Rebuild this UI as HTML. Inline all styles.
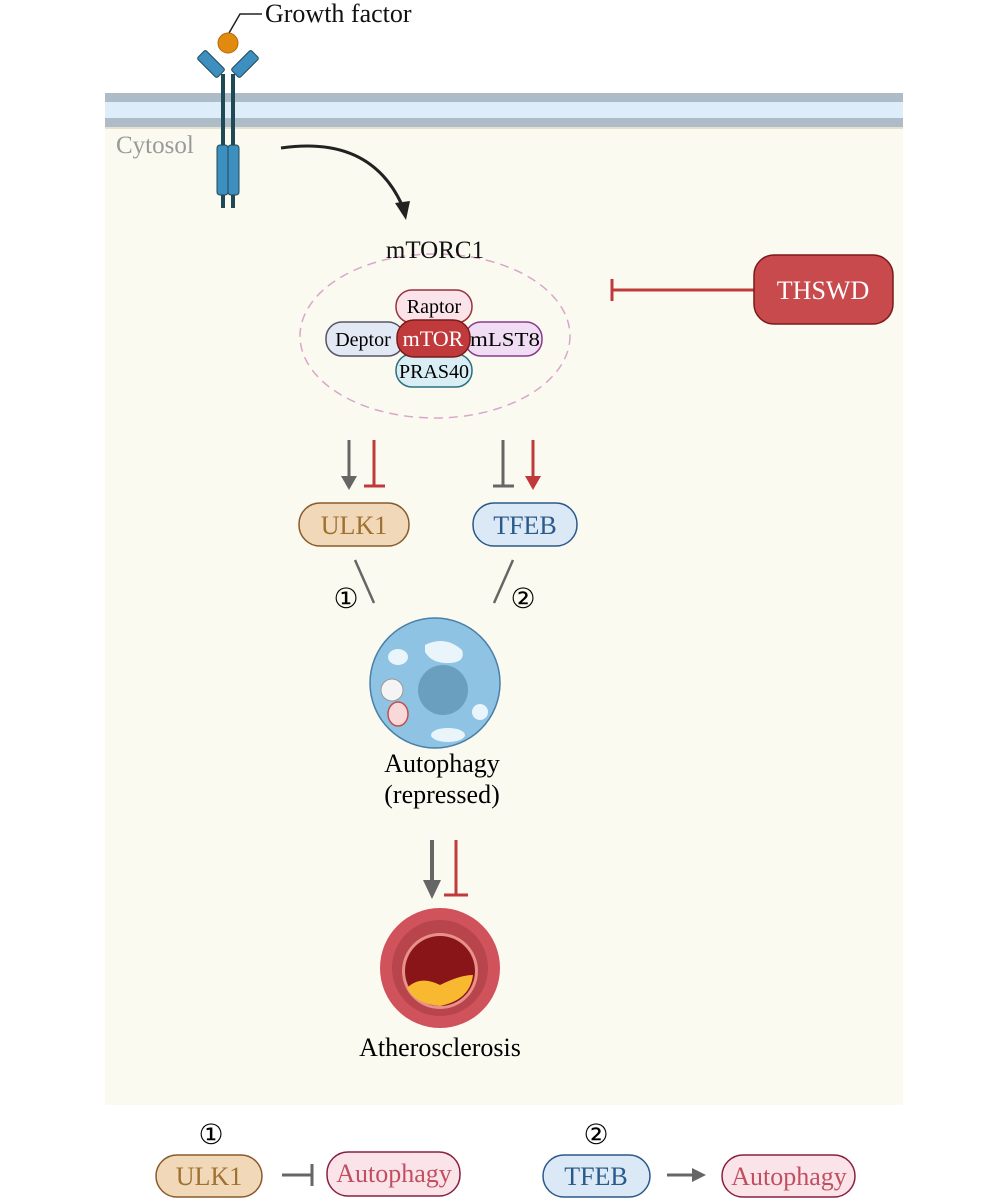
<!DOCTYPE html>
<html><head><meta charset="utf-8"><style>
html,body{margin:0;padding:0;background:#fff;}
svg{display:block;font-family:"Liberation Serif",serif;}
</style></head><body>
<svg width="1008" height="1200" viewBox="0 0 1008 1200" xmlns="http://www.w3.org/2000/svg">
<rect x="105" y="128" width="798" height="977" fill="#fbfaf0"/>
<rect x="105" y="93" width="798" height="9" fill="#aebcc8"/>
<rect x="105" y="102" width="798" height="16" fill="#ddeefa"/>
<rect x="105" y="118" width="798" height="9" fill="#aebcc8"/>
<rect x="105" y="127" width="798" height="2" fill="#e6e0cc"/>
<text x="116" y="153" font-size="25" fill="#999">Cytosol</text>
<polyline points="229,33 240,14 262,14" fill="none" stroke="#222" stroke-width="1.5"/>
<text x="265" y="22" font-size="26" fill="#111">Growth factor</text>
<rect x="221" y="74" width="4" height="134" fill="#1f4a55"/>
<rect x="231" y="74" width="4" height="134" fill="#1f4a55"/>
<rect x="205" y="50" width="12" height="28" rx="2" fill="#3d8fc0" stroke="#1f4a55" transform="rotate(-45 211 64)"/>
<rect x="239" y="50" width="12" height="28" rx="2" fill="#3d8fc0" stroke="#1f4a55" transform="rotate(45 245 64)"/>
<circle cx="228" cy="43" r="10" fill="#e08a10" stroke="#b86a00"/>
<rect x="217" y="145" width="11" height="50" rx="3" fill="#3d8fc0" stroke="#1f4a55"/>
<rect x="228" y="145" width="11" height="50" rx="3" fill="#3d8fc0" stroke="#1f4a55"/>
<path d="M281,148 Q370,135 402,205" fill="none" stroke="#222" stroke-width="3"/>
<path d="M395,203 L410,201 L406,220 z" fill="#222"/>
<ellipse cx="435" cy="336" rx="135" ry="82" fill="none" stroke="#d9a6cc" stroke-width="1.5" stroke-dasharray="9,6"/>
<text x="435" y="258" font-size="25" text-anchor="middle" fill="#111">mTORC1</text>
<rect x="396" y="290" width="76" height="33" rx="16" fill="#fbe3ea" stroke="#9a3040" stroke-width="1.5"/>
<text x="434" y="313" font-size="20" text-anchor="middle">Raptor</text>
<rect x="396" y="354" width="76" height="33" rx="16" fill="#d8eef4" stroke="#2a7080" stroke-width="1.5"/>
<text x="434" y="378" font-size="20" text-anchor="middle" textLength="70" lengthAdjust="spacingAndGlyphs">PRAS40</text>
<rect x="326" y="322" width="78" height="34" rx="16" fill="#e2e9f4" stroke="#556" stroke-width="1.5"/>
<text x="363" y="346" font-size="20" text-anchor="middle">Deptor</text>
<rect x="465" y="322" width="77" height="34" rx="16" fill="#f0ddf4" stroke="#8a3a90" stroke-width="1.5"/>
<text x="505" y="346" font-size="20" text-anchor="middle" textLength="70" lengthAdjust="spacingAndGlyphs">mLST8</text>
<rect x="397" y="320" width="73" height="37" rx="17" fill="#c0393b" stroke="#7a1a1a" stroke-width="1.5"/>
<text x="433" y="346" font-size="22" text-anchor="middle" fill="#fff">mTOR</text>
<line x1="612" y1="290" x2="754" y2="290" stroke="#c0393b" stroke-width="3"/>
<line x1="612" y1="279" x2="612" y2="301" stroke="#c0393b" stroke-width="3"/>
<rect x="754" y="255" width="139" height="69" rx="20" fill="#c84a4c" stroke="#7a1a1a" stroke-width="1.5"/>
<text x="823" y="299" font-size="26" text-anchor="middle" fill="#fff">THSWD</text>
<line x1="349" y1="440" x2="349" y2="478" stroke="#666" stroke-width="3"/>
<path d="M341,476 L357,476 L349,490 z" fill="#666"/>
<line x1="374" y1="440" x2="374" y2="486" stroke="#c0393b" stroke-width="3"/>
<line x1="364" y1="486" x2="385" y2="486" stroke="#c0393b" stroke-width="3"/>
<line x1="503" y1="440" x2="503" y2="486" stroke="#666" stroke-width="3"/>
<line x1="493" y1="486" x2="514" y2="486" stroke="#666" stroke-width="3"/>
<line x1="533" y1="440" x2="533" y2="478" stroke="#c0393b" stroke-width="3"/>
<path d="M525,476 L541,476 L533,490 z" fill="#c0393b"/>
<rect x="299" y="503" width="110" height="43" rx="21" fill="#f0d8b8" stroke="#8a5a2a" stroke-width="1.5"/>
<text x="354" y="534" font-size="26" text-anchor="middle" fill="#a07030">ULK1</text>
<rect x="473" y="503" width="104" height="43" rx="21" fill="#dbe9f7" stroke="#2a5a8a" stroke-width="1.5"/>
<text x="525" y="534" font-size="26" text-anchor="middle" fill="#2a5a8a">TFEB</text>
<line x1="355" y1="560" x2="374" y2="603" stroke="#666" stroke-width="2.5"/>
<line x1="513" y1="560" x2="494" y2="603" stroke="#666" stroke-width="2.5"/>
<text x="346" y="608" font-size="28" text-anchor="middle">①</text>
<text x="523" y="608" font-size="28" text-anchor="middle">②</text>
<circle cx="435" cy="683" r="65" fill="#8fc3e3" stroke="#4a80a8" stroke-width="1.5"/>
<circle cx="443" cy="690" r="25" fill="#6a9fc0"/>
<path d="M425,645 Q445,635 462,650 Q466,662 450,663 Q432,664 425,652 z" fill="#eaf4fb"/>
<ellipse cx="398" cy="657" rx="10" ry="8" fill="#eaf4fb"/>
<ellipse cx="480" cy="712" rx="8" ry="8" fill="#eaf4fb"/>
<ellipse cx="448" cy="735" rx="17" ry="7" fill="#eaf4fb"/>
<circle cx="392" cy="690" r="11" fill="#f4f4f4" stroke="#999"/>
<ellipse cx="398" cy="714" rx="10" ry="12" fill="#f8d8d8" stroke="#c05050" stroke-width="1.5"/>
<text x="442" y="772" font-size="26" text-anchor="middle">Autophagy</text>
<text x="442" y="803" font-size="26" text-anchor="middle">(repressed)</text>
<line x1="432" y1="840" x2="432" y2="882" stroke="#666" stroke-width="4"/>
<path d="M423,880 L441,880 L432,899 z" fill="#666"/>
<line x1="456" y1="840" x2="456" y2="895" stroke="#c0393b" stroke-width="3"/>
<line x1="444" y1="895" x2="468" y2="895" stroke="#c0393b" stroke-width="3"/>
<circle cx="440" cy="968" r="60" fill="#d0525a"/>
<circle cx="440" cy="968" r="48" fill="#b8454c"/>
<circle cx="440" cy="971" r="38" fill="#e8908a"/>
<circle cx="440" cy="971" r="35" fill="#8a1518"/>
<path d="M407,988 Q420,975 440,985 Q460,975 473,975 Q470,1000 440,1006 Q415,1004 407,988 z" fill="#f8b830"/>
<text x="440" y="1056" font-size="26" text-anchor="middle">Atherosclerosis</text>
<text x="211" y="1144" font-size="28" text-anchor="middle">①</text>
<rect x="156" y="1155" width="106" height="42" rx="21" fill="#f0d8b8" stroke="#8a5a2a" stroke-width="1.5"/>
<text x="209" y="1185" font-size="26" text-anchor="middle" fill="#a07030">ULK1</text>
<line x1="282" y1="1175" x2="311" y2="1175" stroke="#666" stroke-width="3"/>
<line x1="312" y1="1164" x2="312" y2="1186" stroke="#666" stroke-width="3"/>
<rect x="327" y="1152" width="133" height="44" rx="21" fill="#fbe3ea" stroke="#8a2040" stroke-width="1.5"/>
<text x="394" y="1182" font-size="26" text-anchor="middle" fill="#c05060">Autophagy</text>
<text x="596" y="1144" font-size="28" text-anchor="middle">②</text>
<rect x="543" y="1155" width="107" height="42" rx="21" fill="#dbe9f7" stroke="#2a5a8a" stroke-width="1.5"/>
<text x="596" y="1185" font-size="26" text-anchor="middle" fill="#2a5a8a">TFEB</text>
<line x1="667" y1="1175" x2="694" y2="1175" stroke="#666" stroke-width="3"/>
<path d="M692,1168 L706,1175 L692,1182 z" fill="#666"/>
<rect x="722" y="1155" width="133" height="42" rx="21" fill="#fbe3ea" stroke="#8a2040" stroke-width="1.5"/>
<text x="789" y="1185" font-size="26" text-anchor="middle" fill="#c05060">Autophagy</text>
</svg>
</body></html>
